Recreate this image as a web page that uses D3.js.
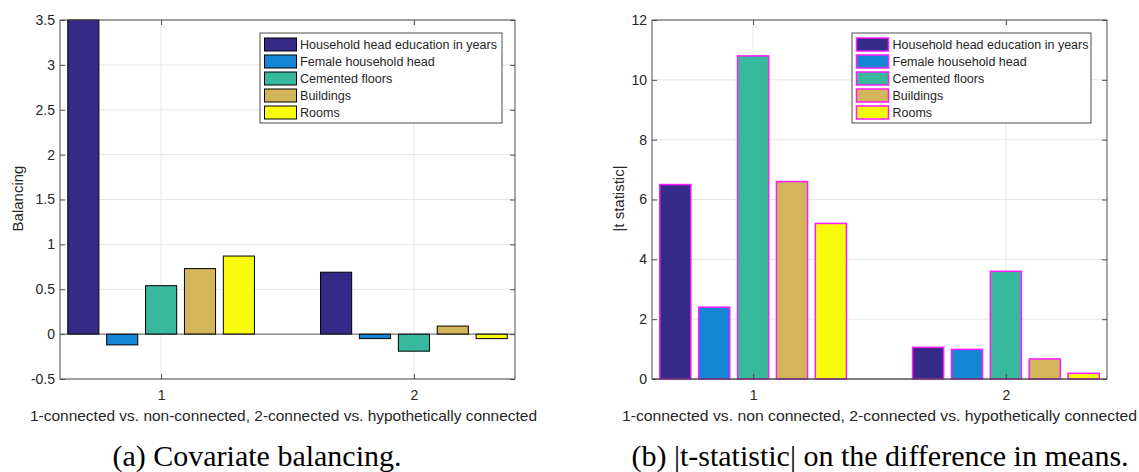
<!DOCTYPE html>
<html>
<head>
    <meta charset="utf-8">
    <script src="https://cdn.jsdelivr.net/npm/d3@7"></script>
    <style>
        body { margin: 0; background: #fff; }
        text { font-family: "Liberation Sans", Arial, sans-serif; fill: #262626; }
        .caption { font-family: "Liberation Serif", "Times New Roman", serif; fill: #000; }
    </style>
</head>
<body>
    <svg width="1139" height="472" id="mainsvg"></svg>
    <script>
        // data
        const groups = [1, 2];
        const seriesNames = ['Household head education in years', 'Female household head', 'Cemented floors', 'Buildings', 'Rooms'];
        const seriesColors = ['#352a87', '#1485d4', '#38b89d', '#d3b55a', '#f9fb0e'];
        const balancing = [[3.5, -0.12, 0.54, 0.73, 0.87], [0.69, -0.05, -0.19, 0.09, -0.05]];
        const tStat = [[6.5, 2.4, 10.8, 6.6, 5.2], [1.06, 0.99, 3.6, 0.67, 0.19]];
        const balTicks = [-0.5, 0, 0.5, 1, 1.5, 2, 2.5, 3, 3.5];
        const tTicks = [0, 2, 4, 6, 8, 10, 12];

        const svg = d3.select('#mainsvg');

        function panel(cfg) {
            const g = svg.append('g');
            const x = d3.scaleLinear().domain([0.6, 2.4]).range([cfg.left, cfg.right]);
            const y = d3.scaleLinear().domain(cfg.yDomain).range([cfg.bottom, cfg.top]);

            // grid
            g.selectAll('.gy').data(cfg.yTicks).join('line')
                .attr('x1', cfg.left).attr('x2', cfg.right)
                .attr('y1', d => y(d)).attr('y2', d => y(d))
                .attr('stroke', '#e5e5e5').attr('stroke-width', 1);
            g.selectAll('.gx').data(groups).join('line')
                .attr('x1', d => x(d)).attr('x2', d => x(d))
                .attr('y1', cfg.top).attr('y2', cfg.bottom)
                .attr('stroke', '#e5e5e5').attr('stroke-width', 1);

            // bars, matlab grouped layout
            const step = Math.min(0.8, 5 / 6.5) / 5;
            const bw = step * 0.8;
            groups.forEach((grp, gi) => {
                g.selectAll(null).data(cfg.values[gi]).join('rect')
                    .attr('x', (d, i) => x(grp + (i - 2) * step - bw / 2))
                    .attr('width', x(bw) - x(0))
                    .attr('y', d => y(Math.max(0, d)))
                    .attr('height', d => Math.abs(y(d) - y(0)))
                    .attr('fill', (d, i) => seriesColors[i])
                    .attr('stroke', cfg.edge).attr('stroke-width', cfg.edgeWidth);
            });

            // baseline
            g.append('line').attr('x1', cfg.left).attr('x2', cfg.right)
                .attr('y1', y(0)).attr('y2', y(0))
                .attr('stroke', '#262626').attr('stroke-width', 1).attr('opacity', 0.7);

            // box + inward ticks
            const axc = '#4d4d4d';
            g.append('rect').attr('x', cfg.left).attr('y', cfg.top)
                .attr('width', cfg.right - cfg.left).attr('height', cfg.bottom - cfg.top)
                .attr('fill', 'none').attr('stroke', axc).attr('stroke-width', 1);
            const fmt = d => String(d);
            const yl = d3.axisLeft(y).tickValues(cfg.yTicks).tickFormat(fmt).tickSizeInner(-5).tickSizeOuter(0).tickPadding(5);
            const yr = d3.axisRight(y).tickValues(cfg.yTicks).tickSizeInner(-5).tickSizeOuter(0).tickFormat('');
            const xb = d3.axisBottom(x).tickValues(groups).tickFormat(fmt).tickSizeInner(-5).tickSizeOuter(0).tickPadding(11);
            const xt = d3.axisTop(x).tickValues(groups).tickSizeInner(-5).tickSizeOuter(0).tickFormat('');
            [[yl, `translate(${cfg.left},0)`], [yr, `translate(${cfg.right},0)`],
             [xb, `translate(0,${cfg.bottom})`], [xt, `translate(0,${cfg.top})`]].forEach(([ax, tr]) => {
                const a = g.append('g').attr('transform', tr).call(ax);
                a.select('.domain').remove();
                a.selectAll('line').attr('stroke', axc);
                a.selectAll('text').attr('font-size', 14).attr('fill', '#262626')
                    .style('font-family', '"Liberation Sans", Arial, sans-serif');
            });

            // labels
            g.append('text')
                .attr('transform', `translate(${cfg.yLabelX},${(cfg.top + cfg.bottom) / 2 - 1}) rotate(-90)`)
                .attr('text-anchor', 'middle').attr('dominant-baseline', 'central')
                .attr('font-size', 15).text(cfg.yLabel);
            g.append('text').attr('x', cfg.xLabelX).attr('y', 421)
                .attr('font-size', 15)
                .attr('textLength', cfg.xLabelW).attr('lengthAdjust', 'spacingAndGlyphs')
                .text(cfg.xLabel);
            g.append('text').attr('class', 'caption')
                .attr('x', cfg.captionX).attr('y', 466)
                .attr('text-anchor', 'middle').attr('font-size', 30).text(cfg.caption);

            // legend
            const lg = g.append('g').attr('transform', `translate(${cfg.legX},33)`);
            lg.append('rect').attr('width', cfg.legW).attr('height', 90)
                .attr('fill', '#fff').attr('stroke', axc).attr('stroke-width', 1);
            const row = lg.selectAll('.row').data(seriesNames).join('g')
                .attr('transform', (d, i) => `translate(4.5,${5 + i * 17})`);
            row.append('rect').attr('width', 32).attr('height', 13)
                .attr('fill', (d, i) => seriesColors[i])
                .attr('stroke', cfg.edge).attr('stroke-width', cfg.edgeWidth);
            const lt = row.append('text').attr('x', cfg.legTextX).attr('y', 11).attr('font-size', 12.5).text(d => d);
            // stretch legend text the same way as in the source picture
            const k = cfg.legFirstW / lt.node().getComputedTextLength();
            lt.each(function () {
                d3.select(this).attr('textLength', this.getComputedTextLength() * k)
                    .attr('lengthAdjust', 'spacingAndGlyphs');
            });
        }

        panel({
            left: 60, right: 515, top: 20, bottom: 379,
            yDomain: [-0.5, 3.5], yTicks: balTicks, values: balancing,
            edge: '#000', edgeWidth: 1,
            yLabel: 'Balancing', yLabelX: 17,
            xLabel: '1-connected vs. non-connected, 2-connected vs. hypothetically connected',
            xLabelX: 30, xLabelW: 507,
            caption: '(a) Covariate balancing.', captionX: 257,
            legX: 260, legW: 242, legTextX: 35.5, legFirstW: 197
        });
        panel({
            left: 652, right: 1107, top: 20, bottom: 379,
            yDomain: [0, 12], yTicks: tTicks, values: tStat,
            edge: '#ff1aff', edgeWidth: 1.5,
            yLabel: '|t statistic|', yLabelX: 618,
            xLabel: '1-connected vs. non connected, 2-connected vs. hypothetically connected',
            xLabelX: 622, xLabelW: 515,
            caption: '(b) |t-statistic| on the difference in means.', captionX: 880,
            legX: 852, legW: 239, legTextX: 36, legFirstW: 196
        });
    </script>
</body>
</html>
